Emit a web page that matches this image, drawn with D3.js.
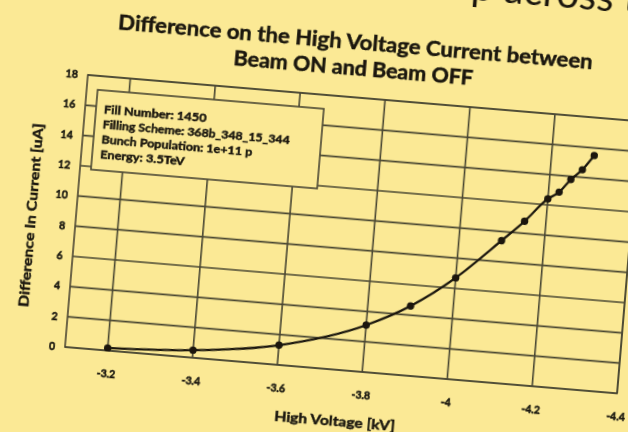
<!DOCTYPE html>
<html><head><meta charset="utf-8">
<script src="https://cdn.jsdelivr.net/npm/d3@7"></script>
<style>html,body{margin:0;padding:0;background:#fbe995;} svg{display:block;}</style>
</head><body><svg id="chart" width="628" height="432"></svg>
<script>
const titleLines = ["Difference on the High Voltage Current between", "Beam ON and Beam OFF"];
const slideTitleFragment = "p across th";
const xValues = [-3.2, -3.4, -3.6, -3.8, -3.9, -4.0, -4.1, -4.15, -4.2, -4.225, -4.25, -4.275, -4.3];
const yValues = [0.17, 0.5, 1.3, 3.1, 4.6, 6.7, 9.4, 10.8, 12.4, 12.9, 13.8, 14.5, 15.5];
const xTicks = [-3.2, -3.4, -3.6, -3.8, -4, -4.2, -4.4];
const yTicks = [0, 2, 4, 6, 8, 10, 12, 14, 16, 18];
const xDomain = [-3.1, -4.4];
const yDomain = [0, 18];
const xLabel = "High Voltage [kV]";
const yLabel = "Difference In Current [uA]";
const infoLines = ["Fill Number: 1450", "Filling Scheme: 368b_348_15_344", "Bunch Population: 1e+11 p", "Energy: 3.5TeV"];

const BG = "#fbe995", INK = "#1a1810", GRID = "#4a4632";
const FONT = "Lato, 'Open Sans', sans-serif";
const svg = d3.select("#chart");
svg.append("rect").attr("width", 628).attr("height", 432).attr("fill", BG);

const defs = svg.append("defs");
defs.append("filter").attr("id", "soft").attr("x", "-5%").attr("y", "-5%").attr("width", "110%").attr("height", "110%")
  .append("feGaussianBlur").attr("stdDeviation", 0.75);

const L = 65, R = 619, T = 74, B = 347;
const x = d3.scaleLinear().domain(xDomain).range([L, R]);
const y = d3.scaleLinear().domain(yDomain).range([B, T]);

const g = svg.append("g").attr("transform", `rotate(4.8, ${L}, ${B})`).attr("filter", "url(#soft)");

function heavy(sel, w) {
  return sel.attr("font-family", FONT).attr("font-weight", 700).attr("fill", INK)
    .attr("stroke", INK).attr("stroke-width", w).attr("paint-order", "stroke");
}

// slide title fragment (cut off at the top, as in the photographed slide)
g.append("text").attr("x", 440).attr("y", -33).attr("font-family", FONT).attr("font-size", 40)
  .attr("fill", INK).text(slideTitleFragment);

// chart title
heavy(g.selectAll("text.title").data(titleLines).join("text").attr("class", "title")
  .attr("x", 329).attr("y", (d, i) => 26 + i * 26).attr("text-anchor", "middle")
  .attr("font-size", 20)
  .attr("textLength", (d, i) => i === 0 ? 476 : 240).attr("lengthAdjust", "spacingAndGlyphs")
  .text(d => d), 0.5);

// gridlines
g.append("g").selectAll("line").data(yTicks).join("line")
  .attr("x1", L).attr("x2", R).attr("y1", d => y(d)).attr("y2", d => y(d))
  .attr("stroke", GRID).attr("stroke-width", 1.6);
g.append("g").selectAll("line").data(xTicks).join("line")
  .attr("x1", d => x(d)).attr("x2", d => x(d)).attr("y1", T).attr("y2", B)
  .attr("stroke", GRID).attr("stroke-width", 1.6);
g.append("rect").attr("x", L).attr("y", T).attr("width", R - L).attr("height", B - T)
  .attr("fill", "none").attr("stroke", GRID).attr("stroke-width", 1.6);

// axes (labels only)
const xAxis = g.append("g").attr("transform", `translate(0,${B})`)
  .call(d3.axisBottom(x).tickValues(xTicks).tickSize(0).tickPadding(20).tickFormat(d => String(d)));
const yAxis = g.append("g").attr("transform", `translate(${L},0)`)
  .call(d3.axisLeft(y).tickValues(yTicks).tickSize(0).tickPadding(10).tickFormat(d => String(d)));
[xAxis, yAxis].forEach(a => {
  a.select(".domain").remove();
  heavy(a.selectAll("text").attr("font-size", 10.5), 0.5);
});

// axis titles
heavy(g.append("text").attr("x", (L + R) / 2 - 2).attr("y", 403).attr("text-anchor", "middle")
  .attr("font-size", 13.5).attr("textLength", 121).attr("lengthAdjust", "spacingAndGlyphs").text(xLabel), 0.45);
heavy(g.append("text").attr("transform", `translate(25,${(T + B) / 2 + 8}) rotate(-90)`).attr("text-anchor", "middle")
  .attr("font-size", 14).attr("textLength", 184).attr("lengthAdjust", "spacingAndGlyphs").text(yLabel), 0.45);

// data line
const pts = xValues.map((v, i) => [v, yValues[i]]);
g.append("path").datum(pts)
  .attr("d", d3.line().x(d => x(d[0])).y(d => y(d[1])).curve(d3.curveMonotoneX))
  .attr("fill", "none").attr("stroke", INK).attr("stroke-width", 2.3);
g.append("g").selectAll("circle").data(pts).join("circle")
  .attr("cx", d => x(d[0])).attr("cy", d => y(d[1])).attr("r", 3.7).attr("fill", INK);

// info box
const box = g.append("g");
box.append("rect").attr("x", 76).attr("y", 88).attr("width", 227).attr("height", 80)
  .attr("fill", BG).attr("stroke", GRID).attr("stroke-width", 1.6);
heavy(box.selectAll("text").data(infoLines).join("text")
  .attr("x", 84).attr("y", (d, i) => 110.5 + i * 15.2)
  .attr("font-size", 11)
  .attr("textLength", d => d.length * 6.05).attr("lengthAdjust", "spacingAndGlyphs")
  .text(d => d), 0.45);
</script></body></html>
